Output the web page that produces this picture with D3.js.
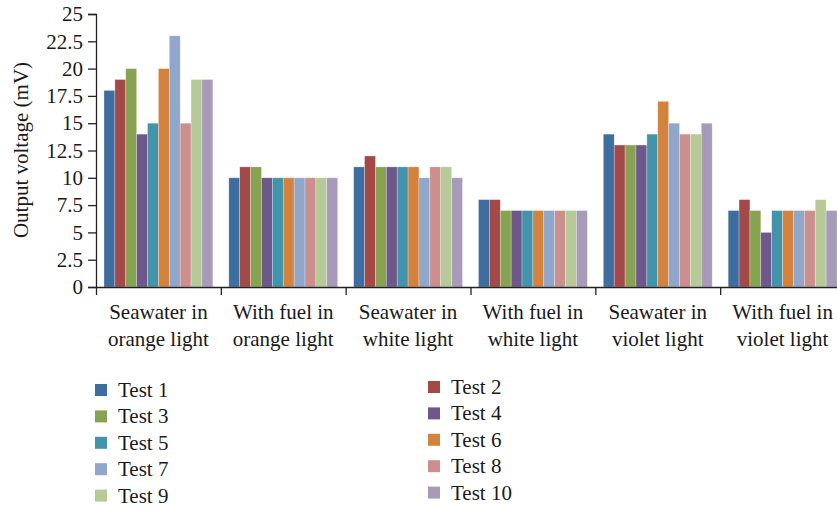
<!DOCTYPE html>
<html>
<head>
<meta charset="utf-8">
<script src="https://cdn.jsdelivr.net/npm/d3@7"></script>
<style>
  body { margin: 0; background: #fff; }
  svg text { font-family: "Liberation Serif", "DejaVu Serif", serif; fill: #1a1a1a; }
</style>
</head>
<body>
<svg id="chart" width="837" height="509"></svg>
<script>
// categories (two text lines each)
var categories = [
  ["Seawater in", "orange light"],
  ["With fuel in", "orange light"],
  ["Seawater in", "white light"],
  ["With fuel in", "white light"],
  ["Seawater in", "violet light"],
  ["With fuel in", "violet light"]
];
var seriesNames = ["Test 1","Test 2","Test 3","Test 4","Test 5","Test 6","Test 7","Test 8","Test 9","Test 10"];
var seriesColors = ["#3e6e9f","#a34947","#87a251","#6d578b","#4394aa","#d4833f","#91a6cb","#cb908e","#b5ca96","#a89bba"];

// one row per category, one value per test
var seawaterOrange = [18, 19, 20, 14, 15, 20, 23, 15, 19, 19];
var fuelOrange     = [10, 11, 11, 10, 10, 10, 10, 10, 10, 10];
var seawaterWhite  = [11, 12, 11, 11, 11, 11, 10, 11, 11, 10];
var fuelWhite      = [8, 8, 7, 7, 7, 7, 7, 7, 7, 7];
var seawaterViolet = [14, 13, 13, 13, 14, 17, 15, 14, 14, 15];
var fuelViolet     = [7, 8, 7, 5, 7, 7, 7, 7, 8, 7];
var values = [seawaterOrange, fuelOrange, seawaterWhite, fuelWhite, seawaterViolet, fuelViolet];

var yTicks = [0, 2.5, 5, 7.5, 10, 12.5, 15, 17.5, 20, 22.5, 25];

var svg = d3.select("#chart");
// plot edges (the last category runs past the right edge, as in the original)
var plotLeft = 96, plotRight = 845, plotTop = 14, plotBottom = 287;

var catIdx = d3.range(categories.length);
var x0 = d3.scaleBand().domain(catIdx).range([plotLeft, plotRight]).padding(0);
var x1 = d3.scaleBand().domain(d3.range(seriesNames.length))
           .range([8, x0.bandwidth() - 8]).padding(0);
var y = d3.scaleLinear().domain([0, 25]).range([plotBottom, plotTop]);

// bars
var groups = svg.append("g").selectAll("g")
  .data(catIdx)
  .enter().append("g")
  .attr("transform", function(i){ return "translate(" + x0(i) + ",0)"; });

groups.selectAll("rect")
  .data(function(i){ return values[i].map(function(v, j){ return {v: v, j: j}; }); })
  .enter().append("rect")
  .attr("x", function(d){ return x1(d.j); })
  .attr("width", x1.bandwidth())
  .attr("y", function(d){ return y(d.v); })
  .attr("height", function(d){ return plotBottom - y(d.v); })
  .style("fill", function(d){ return seriesColors[d.j]; })
  .style("stroke", "rgba(255,255,255,0.45)")
  .style("stroke-width", 0.6);

// y axis
var yAxis = svg.append("g")
  .attr("transform", "translate(" + plotLeft + ",0)")
  .call(d3.axisLeft(y).tickValues(yTicks).tickSize(8).tickPadding(5)
        .tickFormat(function(d){ return d % 1 ? d.toFixed(1) : d; }));
yAxis.select(".domain").attr("stroke", "#222").attr("stroke-width", 1.3);
yAxis.selectAll("line").attr("stroke", "#222").attr("stroke-width", 1.3);
yAxis.selectAll("text").style("font-size", "21px")
  .style("font-family", "'Liberation Serif', serif").attr("fill", "#1a1a1a");

// x axis with ticks at category boundaries
var xb = d3.scaleLinear().domain([0, categories.length]).range([plotLeft, plotRight]);
var xAxis = svg.append("g")
  .attr("transform", "translate(0," + plotBottom + ")")
  .call(d3.axisBottom(xb).tickValues(d3.range(categories.length + 1))
        .tickSize(8).tickSizeOuter(0).tickFormat(""));
xAxis.select(".domain").attr("stroke", "#222").attr("stroke-width", 1.3);
xAxis.selectAll("line").attr("stroke", "#222").attr("stroke-width", 1.3);

// category labels
var catLabels = svg.append("g").selectAll("text")
  .data(catIdx)
  .enter().append("text")
  .attr("text-anchor", "middle")
  .attr("x", function(i){ return x0(i) + x0.bandwidth() / 2; })
  .attr("y", 319)
  .style("font-size", "21px");
catLabels.selectAll("tspan")
  .data(function(i){ return categories[i]; })
  .enter().append("tspan")
  .attr("x", function(){ var i = d3.select(this.parentNode).datum(); return x0(i) + x0.bandwidth() / 2; })
  .attr("dy", function(d, k){ return k ? 27 : 0; })
  .text(function(d){ return d; });

// y label
svg.append("text")
  .attr("transform", "translate(28,150) rotate(-90)")
  .attr("text-anchor", "middle")
  .style("font-size", "21px")
  .text("Output voltage (mV)");

// legend, two columns
var legend = svg.append("g").selectAll("g")
  .data(seriesNames)
  .enter().append("g")
  .attr("transform", function(d, i){
    var col = i % 2, row = Math.floor(i / 2);
    var lx = col ? 428 : 95;
    var ly = (col ? 387 : 390) + row * 26.4;
    return "translate(" + lx + "," + ly + ")";
  });
legend.append("rect")
  .attr("x", 0).attr("y", -6).attr("width", 12).attr("height", 12)
  .style("fill", function(d, i){ return seriesColors[i]; });
legend.append("text")
  .attr("x", 23).attr("y", 7)
  .style("font-size", "21px")
  .text(function(d){ return d; });
</script>
</body>
</html>
